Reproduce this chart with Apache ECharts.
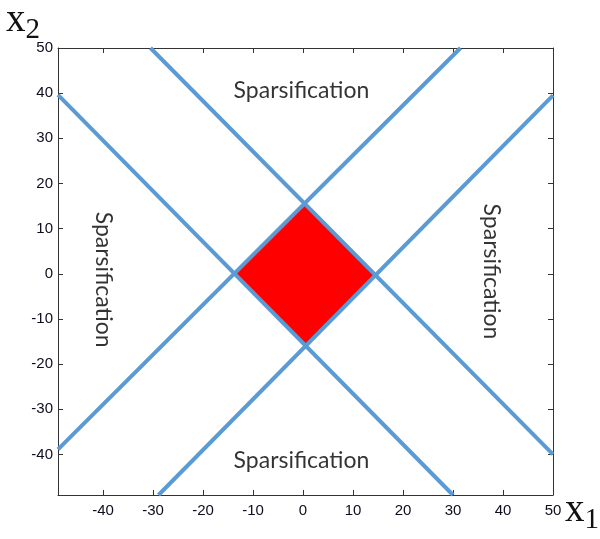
<!DOCTYPE html>
<html>
<head>
<meta charset="utf-8">
<script src="https://cdn.jsdelivr.net/npm/echarts@6/dist/echarts.min.js"></script>
<style>html,body{margin:0;padding:0;background:#fff}#c{width:600px;height:539px}</style>
</head>
<body>
<div id="c"></div>
<script>
// Axis ranges and tick labels
const xRange = [-49, 50];
const yRange = [-49, 50];
const xTicks = [-40, -30, -20, -10, 0, 10, 20, 30, 40, 50];
const yTicks = [-40, -30, -20, -10, 0, 10, 20, 30, 40, 50];

// Boundary lines (endpoints in data units)
const lineDesc1 = [[-49, 39.6], [30, -49]];
const lineDesc2 = [[-30.5, 50], [50, -40]];
const lineAsc1 = [[-49, -38.9], [31.5, 50]];
const lineAsc2 = [[-28.9, -49], [50, 39.5]];

// Feasible (red) region vertices
const diamond = [[-13.8, 0], [0.3, 15.6], [14.5, -0.3], [0.4, -16.1]];

// Region labels
const regionLabels = [
  { name: 'Sparsification', value: [-0.3, 40.6], rotate: 0 },
  { name: 'Sparsification', value: [-0.3, -41.3], rotate: 0 },
  { name: 'Sparsification', value: [-39.9, -1.3], rotate: -90 },
  { name: 'Sparsification', value: [37.6, 0.5], rotate: -90 }
];

const blue = '#5b9bd5';
const axisColor = '#333';
const labelStyle = { fontFamily: 'Liberation Sans', fontSize: 15, color: '#0d0d1f' };

const chart = echarts.init(document.getElementById('c'), null, { renderer: 'canvas' });

function lineSeries(d) {
  return {
    type: 'line', data: d, showSymbol: false, symbol: 'none', clip: false, z: 3,
    lineStyle: { color: blue, width: 4 }, silent: true, animation: false
  };
}

const option = {
  animation: false,
  grid: { left: 58, top: 48, right: 47, bottom: 44, containLabel: false },
  xAxis: [
    {
      type: 'value', min: xRange[0], max: xRange[1], position: 'bottom',
      splitLine: { show: false },
      axisLine: { show: true, onZero: false, lineStyle: { color: axisColor, width: 1 } },
      axisTick: { show: true, inside: true, length: 5, customValues: xTicks, lineStyle: { color: axisColor } },
      axisLabel: Object.assign({ customValues: xTicks, margin: 8 }, labelStyle)
    },
    {
      type: 'value', min: xRange[0], max: xRange[1], position: 'top',
      splitLine: { show: false },
      axisLine: { show: true, onZero: false, lineStyle: { color: axisColor, width: 1 } },
      axisTick: { show: true, inside: true, length: 5, customValues: xTicks, lineStyle: { color: axisColor } },
      axisLabel: { show: false }
    }
  ],
  yAxis: [
    {
      type: 'value', min: yRange[0], max: yRange[1], position: 'left',
      splitLine: { show: false },
      axisLine: { show: true, onZero: false, lineStyle: { color: axisColor, width: 1 } },
      axisTick: { show: true, inside: true, length: 5, customValues: yTicks, lineStyle: { color: axisColor } },
      axisLabel: Object.assign({ customValues: yTicks, margin: 5 }, labelStyle)
    },
    {
      type: 'value', min: yRange[0], max: yRange[1], position: 'right',
      splitLine: { show: false },
      axisLine: { show: true, onZero: false, lineStyle: { color: axisColor, width: 1 } },
      axisTick: { show: true, inside: true, length: 5, customValues: yTicks, lineStyle: { color: axisColor } },
      axisLabel: { show: false }
    }
  ],
  series: [
    {
      type: 'custom', data: [0], z: 2, silent: true, clip: false,
      renderItem: function (params, api) {
        const pts = diamond.map(p => api.coord(p));
        return { type: 'polygon', shape: { points: pts }, style: { fill: '#ff0000' } };
      }
    },
    lineSeries(lineDesc1),
    lineSeries(lineDesc2),
    lineSeries(lineAsc1),
    lineSeries(lineAsc2),
    {
      type: 'scatter', symbolSize: 0, z: 4, silent: true,
      data: regionLabels.map(r => ({
        name: r.name, value: r.value,
        label: { show: true, position: 'inside', rotate: r.rotate, formatter: '{b}',
          fontFamily: 'Lato', fontSize: 23, color: '#000', textBorderWidth: 0 }
      }))
    }
  ],
  graphic: [
    {
      type: 'text', left: 6, top: 1,
      style: {
        text: '{a|x}{b|2}',
        rich: {
          a: { fontFamily: 'Liberation Serif', fontSize: 39, fill: '#111' },
          b: { fontFamily: 'Liberation Serif', fontSize: 29, fill: '#111', verticalAlign: 'bottom', padding: [20, 0, 0, 0] }
        }
      }
    },
    {
      type: 'text', left: 565, top: 491,
      style: {
        text: '{a|x}{b|1}',
        rich: {
          a: { fontFamily: 'Liberation Serif', fontSize: 39, fill: '#111' },
          b: { fontFamily: 'Liberation Serif', fontSize: 29, fill: '#111', verticalAlign: 'bottom', padding: [20, 0, 0, 0] }
        }
      }
    }
  ]
};
chart.setOption(option);
</script>
</body>
</html>
